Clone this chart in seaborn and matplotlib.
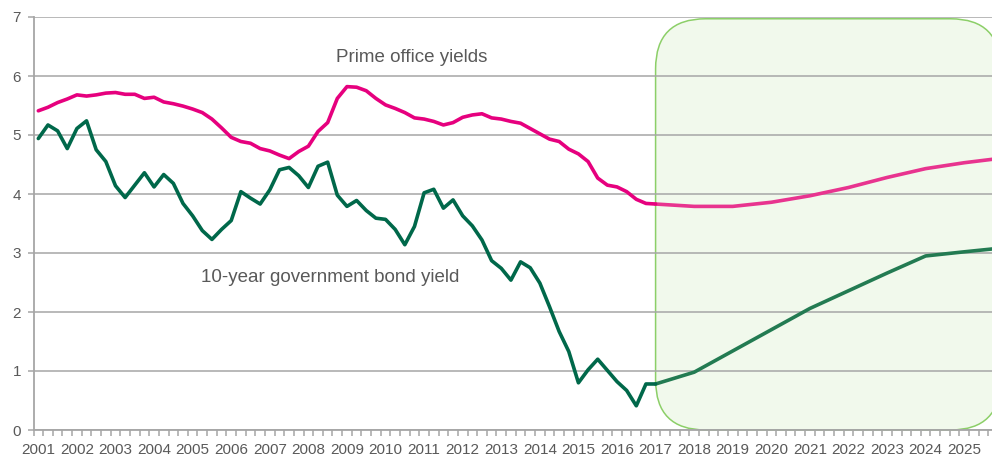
import numpy as np
import pandas as pd
import seaborn as sns
import matplotlib.pyplot as plt
import matplotlib.transforms as mtransforms
from matplotlib.patches import FancyBboxPatch
from matplotlib.ticker import FixedLocator, NullFormatter

# Quarterly history, 2001Q1 .. 2017Q1
prime_office_hist = [
    5.41, 5.47, 5.55, 5.61, 5.68, 5.66, 5.68, 5.71, 5.72, 5.69,
    5.69, 5.62, 5.64, 5.56, 5.53, 5.49, 5.44, 5.38, 5.27, 5.12,
    4.96, 4.89, 4.86, 4.77, 4.73, 4.66, 4.60, 4.72, 4.81, 5.06,
    5.21, 5.62, 5.82, 5.81, 5.75, 5.62, 5.51, 5.45, 5.38, 5.29,
    5.27, 5.23, 5.17, 5.21, 5.30, 5.34, 5.36, 5.29, 5.27, 5.23,
    5.20, 5.11, 5.02, 4.93, 4.89, 4.76, 4.68, 4.55, 4.27, 4.15,
    4.12, 4.04, 3.91, 3.84, 3.83,
]
bond_10y_hist = [
    4.94, 5.17, 5.07, 4.77, 5.11, 5.24, 4.75, 4.55, 4.14, 3.94,
    4.15, 4.36, 4.12, 4.33, 4.18, 3.84, 3.63, 3.38, 3.23, 3.40,
    3.55, 4.04, 3.93, 3.83, 4.07, 4.41, 4.45, 4.31, 4.11, 4.47,
    4.54, 3.98, 3.79, 3.89, 3.72, 3.59, 3.57, 3.40, 3.14, 3.45,
    4.02, 4.08, 3.76, 3.90, 3.63, 3.46, 3.22, 2.87, 2.74, 2.54,
    2.85, 2.75, 2.49, 2.09, 1.67, 1.33, 0.80, 1.02, 1.20, 1.01,
    0.82, 0.67, 0.41, 0.78, 0.78,
]

# Forecast path
forecast_x = [2017, 2018, 2019, 2020, 2021, 2022, 2023, 2024, 2025, 2025.75]
prime_office_fc = [3.83, 3.79, 3.79, 3.86, 3.97, 4.11, 4.28, 4.43, 4.53, 4.59]
bond_10y_fc = [0.78, 0.98, 1.34, 1.70, 2.06, 2.36, 2.66, 2.95, 3.02, 3.07]

year_labels = list(range(2001, 2026))
y_ticks = [0, 1, 2, 3, 4, 5, 6, 7]

hist_x = 2001 + np.arange(len(prime_office_hist)) / 4.0

PINK = "#e6007e"
PINK_FC = "#e8348f"
GREEN = "#00684a"
GREEN_FC = "#237b52"
TEXT = "#595959"
GRID = "#a6a6a6"

sns.set_theme(style="white")
plt.rcParams["font.family"] = ["Liberation Sans", "DejaVu Sans"]

fig = plt.figure(figsize=(9.92, 4.55), dpi=100)
ax = fig.add_axes([33.5 / 992, 25 / 455, 1 - 33.5 / 992, 413 / 455])
ax.set_axisbelow(True)

hist_df = pd.DataFrame({"x": hist_x, "prime": prime_office_hist, "bond": bond_10y_hist})
fc_df = pd.DataFrame({"x": forecast_x, "prime": prime_office_fc, "bond": bond_10y_fc})

lw = 2.6
sns.lineplot(data=fc_df, x="x", y="prime", ax=ax, color=PINK_FC, lw=lw, zorder=3)
sns.lineplot(data=fc_df, x="x", y="bond", ax=ax, color=GREEN_FC, lw=lw, zorder=3)
sns.lineplot(data=hist_df, x="x", y="prime", ax=ax, color=PINK, lw=lw, zorder=4)
sns.lineplot(data=hist_df, x="x", y="bond", ax=ax, color=GREEN, lw=lw, zorder=4)

ax.set_xlim(2001 - 0.125, 2001 + (992 - 38.3) / 38.58)
ax.set_ylim(0, 7)
ax.set_xlabel("")
ax.set_ylabel("")

# Axis styling
for side in ("top", "right"):
    ax.spines[side].set_visible(False)
for side in ("left", "bottom"):
    ax.spines[side].set_color(GRID)
    ax.spines[side].set_linewidth(1.3)

ax.set_yticks(y_ticks)
ax.set_yticklabels([str(v) for v in y_ticks])
ax.yaxis.grid(True, color=GRID, lw=1.1)
ax.xaxis.grid(False)
ax.tick_params(axis="y", which="major", length=4, width=1.1, color=GRID,
               direction="out", pad=5, labelsize=11, labelcolor=TEXT, left=True)

ax.set_xticks(year_labels)
ax.set_xticklabels([str(y) for y in year_labels])
ax.xaxis.set_minor_locator(FixedLocator(np.arange(2001 - 0.125, 2026, 0.25)))
ax.xaxis.set_minor_formatter(NullFormatter())
ax.tick_params(axis="x", which="major", length=0, pad=9, labelsize=11,
               labelcolor=TEXT, bottom=True)
ax.tick_params(axis="x", which="minor", length=4, width=1.1, color=GRID,
               direction="out", bottom=True)

# Forecast period panel (rounded box, in pixel units)
fig.canvas.draw()
trans = ax.transData
x0, y0 = trans.transform((2017.0, 0.0))
_, y1 = trans.transform((2017.0, 6.97))
x1 = x0 + 345
box = FancyBboxPatch((x0, y0), x1 - x0, y1 - y0,
                     boxstyle="round,pad=0,rounding_size=50",
                     transform=mtransforms.IdentityTransform(),
                     facecolor="#f1f9ec", edgecolor="#8ccf68", lw=1.1,
                     zorder=0.3, clip_on=False)
ax.add_artist(box)

ax.text(2010.69, 6.24, "Prime office yields", fontsize=13.5, color=TEXT,
        ha="center", va="baseline", zorder=5)
ax.text(2008.56, 2.51, "10-year government bond yield", fontsize=13.5, color=TEXT,
        ha="center", va="baseline", zorder=5)

fig.savefig("out.png", dpi=100)
